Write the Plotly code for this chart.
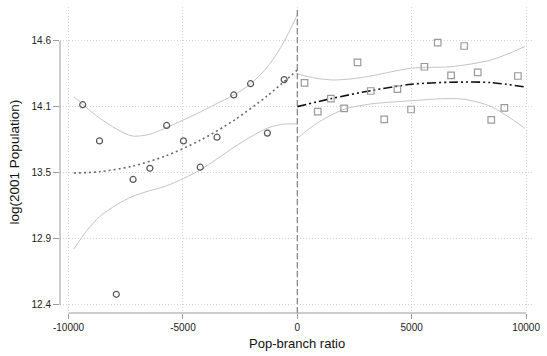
import plotly.graph_objects as go

# Binned means, left of the cutoff
left_x = [-9380, -8646, -7912, -7178, -6445, -5711, -4977, -4243, -3509, -2776, -2042, -1308, -574]
left_y = [14.069, 13.767, 12.489, 13.446, 13.539, 13.896, 13.767, 13.548, 13.798, 14.150, 14.244, 13.832, 14.278]

# Binned means, right of the cutoff
right_x = [315, 893, 1468, 2046, 2633, 3212, 3799, 4377, 4973, 5556, 6138, 6721, 7295, 7887, 8478, 9052, 9643]
right_y = [14.250, 14.011, 14.119, 14.038, 14.422, 14.183, 13.946, 14.198, 14.029, 14.385, 14.586, 14.313, 14.558, 14.339, 13.942, 14.042, 14.308]

# Quadratic fit and 95% band, left side
lfit_x = [-9769, -8646, -7222, -5754, -4243, -2733, -1308, 0]
lfit_y = [13.500, 13.510, 13.556, 13.642, 13.772, 13.943, 14.143, 14.358]
lband_x = [-9769, -9208, -8646, -7912, -7222, -6488, -5754, -4977, -4243, -3509, -2733, -2042, -1308, -660, 0]
lup_y = [14.136, 14.042, 13.958, 13.867, 13.808, 13.821, 13.875, 13.942, 14.008, 14.079, 14.154, 14.242, 14.383, 14.567, 14.817]
llo_y = [12.867, 13.017, 13.136, 13.233, 13.303, 13.350, 13.390, 13.454, 13.525, 13.617, 13.719, 13.800, 13.874, 13.906, 13.908]

# Quadratic fit and 95% band, right side
rfit_x = [0, 1468, 3212, 4981, 6721, 8478, 9946]
rfit_y = [14.053, 14.119, 14.186, 14.239, 14.256, 14.253, 14.217]
rup_x = [0, 800, 1571, 2400, 3212, 4981, 6721, 8478, 9946]
rup_y = [14.325, 14.290, 14.275, 14.285, 14.308, 14.373, 14.386, 14.442, 14.553]
rlo_x = [0, 850, 2046, 3212, 4981, 6459, 7295, 8478, 9946]
rlo_y = [13.789, 13.914, 14.031, 14.075, 14.102, 14.119, 14.114, 14.053, 13.873]

x_ticks = [-10000, -5000, 0, 5000, 10000]
x_labels = ["-10000", "-5000", "0", "5000", "10000"]
y_ticks = [12.4, 12.95, 13.5, 14.05, 14.6]
y_labels = ["12.4", "12.9", "13.5", "14.1", "14.6"]

FONT = "Liberation Sans, Arial, sans-serif"
CI_COLOR = "#c4c4c4"

fig = go.Figure()

for xs, ys in [(lband_x, lup_y), (lband_x, llo_y), (rup_x, rup_y), (rlo_x, rlo_y)]:
    fig.add_trace(go.Scatter(x=xs, y=ys, mode="lines",
                             line=dict(color=CI_COLOR, width=1, shape="spline", smoothing=0.8),
                             hoverinfo="skip"))

fig.add_trace(go.Scatter(x=lfit_x, y=lfit_y, mode="lines",
                         line=dict(color="#6a6a6a", width=1.6, dash="2px,3px",
                                   shape="spline", smoothing=0.8)))
fig.add_trace(go.Scatter(x=rfit_x, y=rfit_y, mode="lines",
                         line=dict(color="#111111", width=1.6, dash="9px,3px,2px,3px,2px,3px",
                                   shape="spline", smoothing=0.8)))

fig.add_trace(go.Scatter(x=left_x, y=left_y, mode="markers",
                         marker=dict(symbol="circle-open", size=6, color="#555555",
                                     line=dict(width=1.2, color="#555555"))))
fig.add_trace(go.Scatter(x=right_x, y=right_y, mode="markers",
                         marker=dict(symbol="square-open", size=6.5, color="#9a9a9a",
                                     line=dict(width=1.2, color="#9a9a9a"))))

shapes = [
    # cutoff
    dict(type="line", xref="x", yref="paper", x0=0, x1=0, y0=0, y1=1,
         line=dict(color="#808080", width=1.2, dash="6px,3px")),
    # axis lines spanning the tick range
    dict(type="line", xref="paper", yref="y", x0=0, x1=0, y0=12.4, y1=14.6,
         line=dict(color="#9a9a9a", width=1)),
    dict(type="line", xref="x", yref="paper", x0=-10000, x1=10000, y0=0, y1=0,
         line=dict(color="#9a9a9a", width=1)),
]

fig.update_layout(
    width=547, height=356,
    margin=dict(l=60, r=7, t=7, b=43),
    paper_bgcolor="white", plot_bgcolor="white",
    showlegend=False,
    font=dict(family=FONT, color="#222222", size=10),
    shapes=shapes,
    annotations=[
        dict(text="Pop-branch ratio", xref="paper", yref="paper", x=0.5, y=-0.099,
             xanchor="center", yanchor="middle", showarrow=False,
             font=dict(family=FONT, size=13, color="#111111")),
        dict(text="log(2001 Population)", xref="paper", yref="paper", x=-0.094, y=0.4935,
             xanchor="center", yanchor="middle", textangle=-90, showarrow=False,
             font=dict(family=FONT, size=13.5, color="#111111")),
    ],
)

fig.update_xaxes(range=[-10373, 10347], tickvals=x_ticks, ticktext=x_labels,
                 showline=False, zeroline=False, ticks="outside", ticklen=5,
                 tickcolor="#9a9a9a", showgrid=True, gridcolor="#d4d4d4",
                 griddash="1px,2px", gridwidth=1, tickfont=dict(size=10))
fig.update_yaxes(range=[12.333, 14.883], tickvals=y_ticks, ticktext=y_labels,
                 showline=False, zeroline=False, ticks="outside", ticklen=6,
                 tickcolor="#9a9a9a", showgrid=True, gridcolor="#d4d4d4",
                 griddash="1px,2px", gridwidth=1, tickfont=dict(size=10))

fig.write_html("out.html")
